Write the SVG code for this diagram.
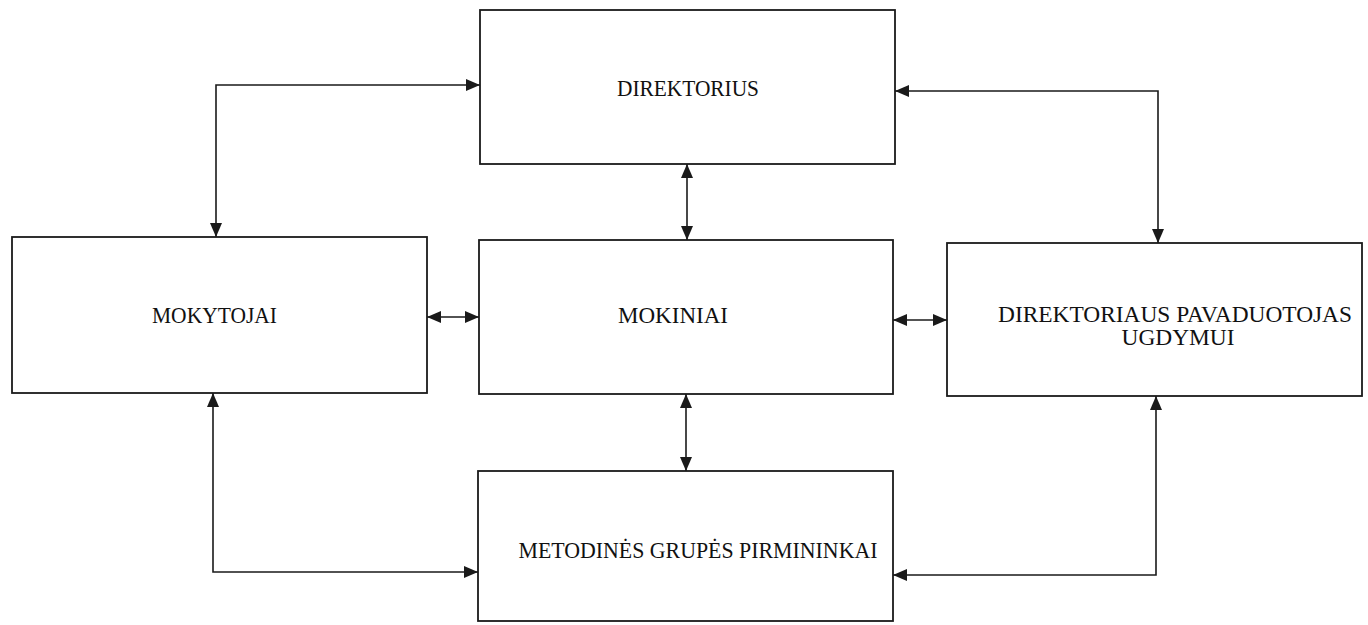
<svg xmlns="http://www.w3.org/2000/svg" width="1368" height="625" viewBox="0 0 1368 625">
<style>
.box{fill:#fff;stroke:#1a1a1a;stroke-width:1.8}
.lbl{font-family:"Liberation Serif","Times New Roman",serif;font-size:23px;fill:#111;text-anchor:middle}
.con{fill:none;stroke:#1a1a1a;stroke-width:1.6;marker-start:url(#ah);marker-end:url(#ah)}
</style>
<defs>
<marker id="ah" markerUnits="userSpaceOnUse" markerWidth="14" markerHeight="12" viewBox="0 0 14 12" refX="14" refY="6" orient="auto-start-reverse">
<path d="M0,0 L14,6 L0,12 z" fill="#1a1a1a"/>
</marker>
</defs>
<rect width="1368" height="625" fill="#fff"/>
<g id="connectors">
<path class="con" d="M480,85 H216 V237"/>
<path class="con" d="M895,91 H1158 V243"/>
<path class="con" d="M213,393 V572 H478"/>
<path class="con" d="M1156,396 V575 H893"/>
<path class="con" d="M427,317 H479"/>
<path class="con" d="M893,320 H947"/>
<path class="con" d="M687,164 V240"/>
<path class="con" d="M686,394 V471"/>
</g>
<g id="direktorius">
<rect class="box" x="480" y="10" width="415" height="154"/>
<text class="lbl" x="688" y="96" textLength="142" lengthAdjust="spacingAndGlyphs">DIREKTORIUS</text>
</g>
<g id="mokytojai">
<rect class="box" x="12" y="237" width="415" height="156"/>
<text class="lbl" x="214.5" y="323" textLength="125" lengthAdjust="spacingAndGlyphs">MOKYTOJAI</text>
</g>
<g id="mokiniai">
<rect class="box" x="479" y="240" width="414" height="154"/>
<text class="lbl" x="673" y="323" textLength="110" lengthAdjust="spacingAndGlyphs">MOKINIAI</text>
</g>
<g id="pavaduotojas">
<rect class="box" x="947" y="243" width="415" height="153"/>
<text class="lbl" x="1175" y="322" textLength="354" lengthAdjust="spacingAndGlyphs">DIREKTORIAUS PAVADUOTOJAS</text>
<text class="lbl" x="1178" y="345" textLength="113" lengthAdjust="spacingAndGlyphs">UGDYMUI</text>
</g>
<g id="metodines">
<rect class="box" x="478" y="471" width="415" height="150"/>
<text class="lbl" x="698" y="558" textLength="359" lengthAdjust="spacingAndGlyphs">METODINĖS GRUPĖS PIRMININKAI</text>
</g>
</svg>
